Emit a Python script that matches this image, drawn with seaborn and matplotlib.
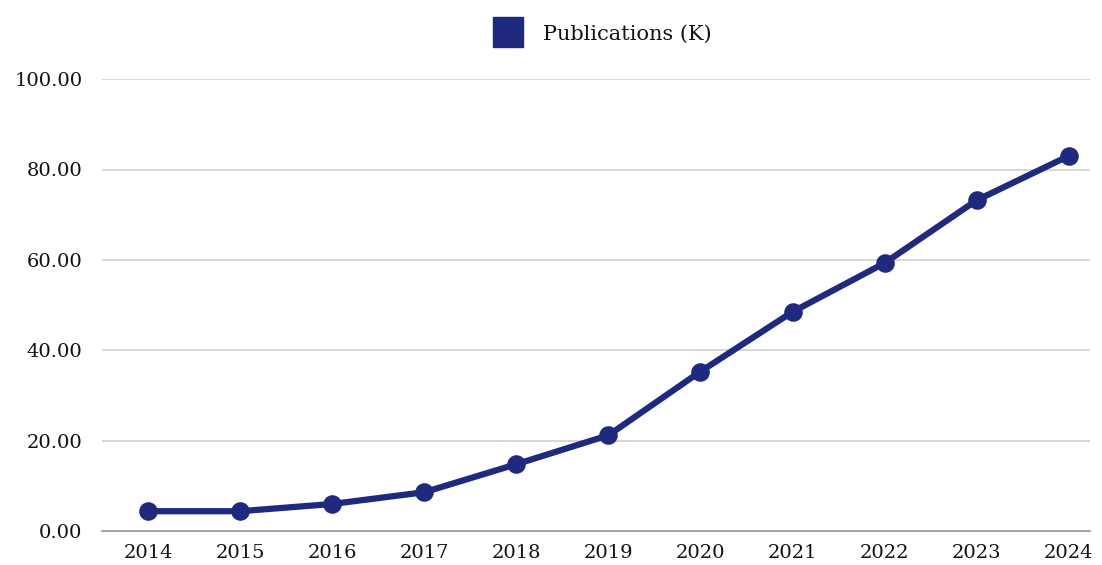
import matplotlib
matplotlib.use("Agg")
import matplotlib.pyplot as plt
import seaborn as sns
from matplotlib.lines import Line2D

years = ["2014", "2015", "2016", "2017", "2018", "2019", "2020", "2021", "2022", "2023", "2024"]
publications = [4.4, 4.4, 6.0, 8.6, 14.8, 21.2, 35.3, 48.5, 59.3, 73.2, 83.0]
y_ticks = [0, 20, 40, 60, 80, 100]
series_label = "Publications (K)"

navy = "#1f2a7e"

sns.set_theme(style="white")
plt.rcParams["font.family"] = ["DejaVu Serif"]

fig = plt.figure(figsize=(11.02, 5.65), dpi=100)
ax = fig.add_axes([0.0926, 0.060, 0.8964, 0.800])

sns.pointplot(x=years, y=publications, color=navy, markers="o",
              markersize=10, linewidth=4.5, ax=ax)
for coll in ax.collections:
    coll.set_clip_on(False)
for ln in ax.lines:
    ln.set_clip_on(False)

ax.set_ylim(0, 100)
ax.set_xlim(-0.5, 10.23)
ax.set_yticks(y_ticks)
ax.set_yticklabels([f"{v:.2f}" for v in y_ticks])
ax.yaxis.grid(True, color="#d0d0d0", linewidth=1.2)
ax.set_axisbelow(True)
for side in ["top", "right", "left"]:
    ax.spines[side].set_visible(False)
ax.spines["bottom"].set_color("#999999")
ax.spines["bottom"].set_linewidth(1.2)
ax.tick_params(axis="both", length=0, labelsize=14, colors="#111111", pad=9)
ax.tick_params(axis="y", pad=14)
ax.set_xlabel("")
ax.set_ylabel("")

handle = Line2D([], [], marker="s", linestyle="none", markersize=21,
                markerfacecolor=navy, markeredgecolor=navy)
fig.legend([handle], [series_label], loc="upper center", bbox_to_anchor=(0.544, 0.99),
           frameon=False, fontsize=15, handletextpad=0.7, labelcolor="#111111")

fig.savefig("out.png", dpi=100)
